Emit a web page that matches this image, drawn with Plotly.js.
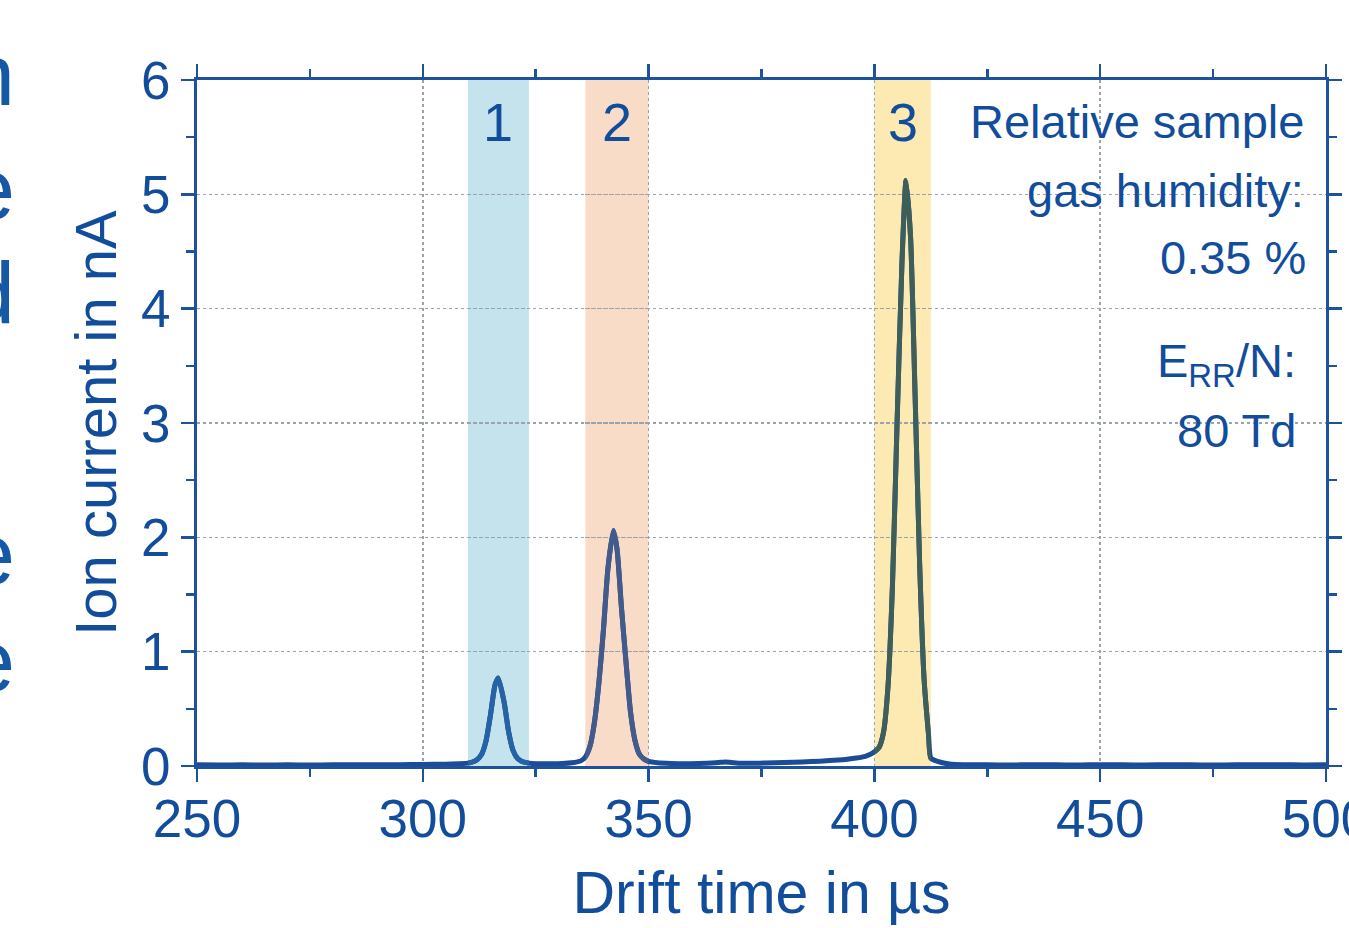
<!DOCTYPE html>
<html>
<head>
<meta charset="utf-8">
<script src="https://cdn.plot.ly/plotly-3.0.1.min.js"></script>
<style>html,body{margin:0;padding:0;background:#fff;}#chart{width:1349px;height:928px;}</style>
</head>
<body>
<div id="chart"></div>
<script>
// Drift time (µs) and ion current (nA)
const driftTime = [250,255,260,265,270,275,280,285,290,295,300,305,308,310,311,312,313,314,315,316,316.7,318,319,320,321,322,323.5,325,328,331,333,335,336,337,338,339,340,341,342.2,343,344,345,346,347,348,349,350,352,355,358,361,364,366,367,368,370,373,376,380,384,388,391,394,396,398,399,400,401,402,403,404,405,406.1,407,408,409,410,411,412,412.5,414,417,420,425,430,435,440,445,450,455,460,465,470,475,480,485,490,495,500];
const ionCurrent = [0.01,0.008,0.01,0.009,0.01,0.008,0.01,0.011,0.01,0.012,0.013,0.016,0.02,0.025,0.035,0.055,0.10,0.22,0.45,0.71,0.77,0.56,0.30,0.135,0.065,0.04,0.025,0.02,0.02,0.022,0.028,0.045,0.08,0.17,0.38,0.73,1.19,1.73,2.06,1.90,1.38,0.91,0.47,0.22,0.10,0.06,0.04,0.028,0.022,0.02,0.022,0.026,0.032,0.036,0.032,0.025,0.024,0.026,0.03,0.036,0.042,0.05,0.06,0.07,0.085,0.10,0.125,0.16,0.29,0.69,1.58,2.97,4.40,5.12,4.63,3.26,1.79,0.76,0.27,0.07,0.04,0.015,0.011,0.01,0.009,0.011,0.01,0.008,0.012,0.01,0.009,0.011,0.01,0.008,0.011,0.01,0.012,0.009,0.01,0.011,0.01];

// Highlighted drift-time windows
const bandLabels = ['1','2','3'];
const bandStart = [310, 336, 400];
const bandEnd = [323.5, 350, 412.5];
const bandFill = ['#c5e3ec','#f9dcc7','#fde9b2'];
const bandLine = ['#2562a6','#445a8b','#3e5e5a'];

const xRange = [250, 500];
const yRange = [0, 6];
const xTicks = [250,300,350,400,450,500];
const yTicks = [0,1,2,3,4,5,6];

const infoLines = ['Relative sample','gas humidity:','0.35 %','E<sub>RR</sub>/N:','80 Td'];
const infoRightPx = [1306,1306,1308,1298,1298];
const infoCenterPx = [121,190,257,364,431];

const edgeLetters = ['n','e','d','e','e'];
const edgeLetterY = [75,188,292,553,660];

const BLUE = '#124d9c';
const LINE = '#1b4c98';
const AX = '#1f529c';
const FONT = 'Liberation Sans, Arial, sans-serif';

// plot area in pixels
const L = 197, R = 23, T = 80, B = 162, W = 1349, H = 928;
const pw = W - L - R, ph = H - T - B;
const px2paperX = p => (p - L) / pw;
const px2paperY = p => (H - B - p) / ph;

const traces = [{x:driftTime, y:ionCurrent, type:'scatter', mode:'lines', xaxis:'x', yaxis:'y',
  line:{color:LINE, width:5, shape:'spline', smoothing:0.6}, hoverinfo:'skip', showlegend:false}];

const layout = {
  width:W, height:H,
  margin:{l:L, r:R, t:T, b:B},
  paper_bgcolor:'#fff', plot_bgcolor:'rgba(0,0,0,0)',
  showlegend:false,
  shapes:[], annotations:[]
};

// same curve, tinted inside each window: overlay axes whose domain equals the window
bandStart.forEach((s,i)=>{
  const k = i + 2;
  const d0 = (s - xRange[0])/(xRange[1]-xRange[0]);
  const d1 = (bandEnd[i] - xRange[0])/(xRange[1]-xRange[0]);
  layout['xaxis'+k] = {domain:[d0,d1], range:[s, bandEnd[i]], visible:false, anchor:'y', fixedrange:true};
  traces.push({x:driftTime, y:ionCurrent, type:'scatter', mode:'lines', xaxis:'x'+k, yaxis:'y',
    line:{color:bandLine[i], width:5, shape:'spline', smoothing:0.6}, hoverinfo:'skip', showlegend:false});
  layout.shapes.push({type:'rect', xref:'x', yref:'paper', x0:s, x1:bandEnd[i], y0:0, y1:1,
    fillcolor:bandFill[i], line:{width:0}, layer:'below'});
  layout.annotations.push({x:(s+bandEnd[i])/2, y:5.63, xref:'x', yref:'y', text:bandLabels[i],
    showarrow:false, font:{family:FONT, size:54, color:BLUE}});
});

infoLines.forEach((t,i)=>{
  layout.annotations.push({x:px2paperX(infoRightPx[i]), y:px2paperY(infoCenterPx[i]), xref:'paper', yref:'paper',
    xanchor:'right', yanchor:'middle', align:'right', text:t, showarrow:false,
    font:{family:FONT, size:47, color:BLUE}});
});

edgeLetters.forEach((t,i)=>{
  layout.annotations.push({x:px2paperX(17), y:px2paperY(edgeLetterY[i]), xref:'paper', yref:'paper',
    xanchor:'right', yanchor:'middle', text:t, showarrow:false,
    font:{family:FONT, size:88, color:'#1558a6'}});
});

const axisCommon = {showline:true, linecolor:AX, linewidth:3, mirror:'ticks', ticks:'outside', ticklen:13, tickwidth:2.5,
  tickcolor:AX, showgrid:true, gridcolor:'#9aa3ab', griddash:'dot', gridwidth:1.5, zeroline:false,
  ticklabeloverflow:'allow', tickfont:{family:FONT, size:53, color:BLUE}};

layout.xaxis = Object.assign({}, axisCommon, {range:xRange, tickvals:xTicks, ticktext:xTicks.map(String),
  ticklabelstandoff:-9,
  minor:{dtick:25, tick0:250, ticks:'outside', ticklen:8, tickwidth:2.5, tickcolor:AX, showgrid:false},
  title:{text:'Drift time in µs', standoff:26, font:{family:FONT, size:59, color:BLUE}}});
layout.yaxis = Object.assign({}, axisCommon, {range:yRange, tickvals:yTicks, ticktext:yTicks.map(String),
  minor:{dtick:0.5, tick0:0, ticks:'outside', ticklen:8, tickwidth:2.5, tickcolor:AX, showgrid:false},
  title:{text:'Ion current in nA', standoff:6, font:{family:FONT, size:58, color:BLUE}}});

Plotly.newPlot('chart', traces, layout, {displayModeBar:false, staticPlot:true});
</script>
</body>
</html>
